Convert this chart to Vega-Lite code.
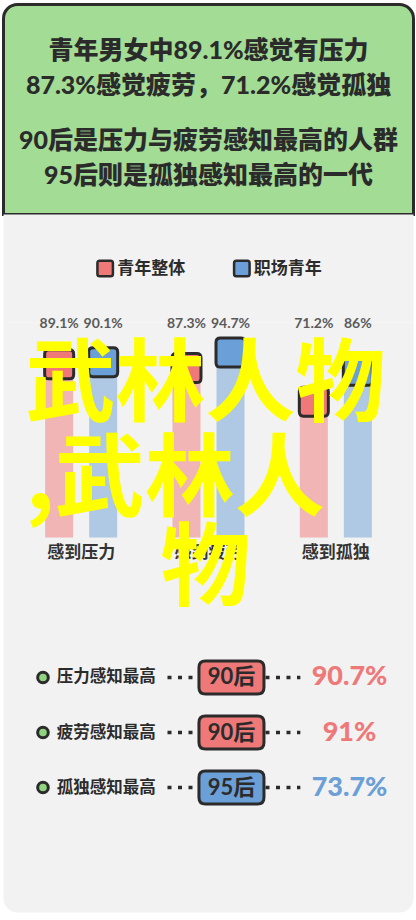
{
  "$schema": "https://vega.github.io/schema/vega-lite/v6.json",
  "background": "#ffffff",
  "padding": {"left": 1.5, "right": 1.5, "top": 2.5, "bottom": 8},
  "spacing": 0,
  "bounds": "flush",
  "config": {"view": {"stroke": null}},
  "datasets": {
    "headline": [
      {"para": 1, "text": "青年男女中89.1%感觉有压力\n87.3%感觉疲劳，71.2%感觉孤独"},
      {"para": 2, "text": "90后是压力与疲劳感知最高的人群\n95后则是孤独感知最高的一代"}
    ],
    "perception": [
      {"feeling": "感到压力", "group": "青年整体", "share": 0.891},
      {"feeling": "感到压力", "group": "职场青年", "share": 0.901},
      {"feeling": "感到疲劳", "group": "青年整体", "share": 0.873},
      {"feeling": "感到疲劳", "group": "职场青年", "share": 0.947},
      {"feeling": "感到孤独", "group": "青年整体", "share": 0.712},
      {"feeling": "感到孤独", "group": "职场青年", "share": 0.86}
    ],
    "peak": [
      {"rank": 1, "item": "压力感知最高", "cohort": "90后", "share": 0.907},
      {"rank": 2, "item": "疲劳感知最高", "cohort": "90后", "share": 0.91},
      {"rank": 3, "item": "孤独感知最高", "cohort": "95后", "share": 0.737}
    ],
    "stamp": [
      {"part": 1, "text": "武林人物\n,武林人"},
      {"part": 2, "text": "物"}
    ],
    "note": [
      {"text": "注：要素评分在3分及以上为有感知"}
    ],
    "one": [{}]
  },
  "vconcat": [
    {
      "width": 410,
      "height": 210,
      "layer": [
        {
          "data": {"name": "one"},
          "mark": {
            "type": "rect",
            "x": 0, "x2": "width", "y": 0, "y2": "height", "y2Offset": 3,
            "filled": true,
            "color": "#a2dc95",
            "stroke": "#2b2b2b", "strokeWidth": 3,
            "cornerRadiusTopLeft": 14, "cornerRadiusTopRight": 14
          },
          "encoding": {}
        },
        {
          "data": {"name": "headline"},
          "mark": {
            "type": "text",
            "lineBreak": "\n",
            "lineHeight": 35,
            "baseline": "middle",
            "font": "Lato, 'Noto Sans CJK SC', sans-serif",
            "fontSize": 25,
            "fontWeight": 900,
            "color": "#2b2b2b"
          },
          "encoding": {
            "y": {"field": "para", "type": "ordinal", "scale": {"type": "point", "padding": 0, "range": [46, 136]}, "axis": null},
            "text": {"field": "text"}
          }
        }
      ]
    },
    {
      "width": 410,
      "height": 108,
      "view": {"fill": "#f2f2f2", "stroke": null},
      "layer": [
        {
          "data": {"name": "one"},
          "mark": {"type": "rule", "x": 0, "x2": "width", "y": 0, "yOffset": -1.5, "color": "#2b2b2b", "strokeWidth": 3.5, "strokeDash": [3.5, 5]},
          "encoding": {}
        },
        {
          "data": {"name": "perception"},
          "transform": [{"filter": "datum.feeling === '感到压力'"}],
          "encoding": {
            "x": {"field": "group", "type": "nominal", "sort": null, "scale": {"type": "point", "padding": 1.31}, "axis": null}
          },
          "layer": [
            {
              "mark": {
                "type": "point",
                "shape": "M-0.7,-1H0.7Q1,-1 1,-0.7V0.7Q1,1 0.7,1H-0.7Q-1,1 -1,0.7V-0.7Q-1,-1 -0.7,-1Z",
                "size": 240,
                "filled": true,
                "opacity": 1,
                "stroke": "#2b2b2b",
                "strokeWidth": 2.5,
                "xOffset": -35
              },
              "encoding": {
                "color": {"field": "group", "type": "nominal", "scale": {"domain": ["青年整体", "职场青年", "90后", "95后"], "range": ["#ef7878", "#6b9fd7", "#ef7878", "#6b9fd7"]}, "legend": null}
              }
            },
            {
              "mark": {"type": "text", "align": "left", "baseline": "middle", "dx": -23, "font": "'Noto Sans CJK SC', sans-serif", "fontSize": 17, "fontWeight": "bold", "color": "#2b2b2b"},
              "encoding": {"text": {"field": "group"}}
            }
          ]
        }
      ]
    },
    {
      "width": 410,
      "height": 590,
      "layer": [
        {
          "data": {"name": "one"},
          "mark": {
            "type": "rect",
            "x": 0, "x2": "width", "y": 0, "y2": "height",
            "filled": true,
            "color": "#f2f2f2",
            "cornerRadiusBottomLeft": 14, "cornerRadiusBottomRight": 14
          },
          "encoding": {}
        },
        {
          "data": {"name": "perception"},
          "encoding": {
            "x": {"field": "feeling", "type": "nominal", "sort": null, "scale": {"paddingInner": 0, "paddingOuter": 0.11}, "axis": null}
          },
          "layer": [
            {
              "mark": {"type": "bar", "opacity": 0.5},
              "encoding": {
                "xOffset": {"field": "group", "type": "nominal", "sort": null, "scale": {"paddingInner": 0.364, "paddingOuter": 0.628}},
                "y": {"field": "share", "type": "quantitative", "scale": {"domain": [-1.732, 1.091], "nice": false, "zero": false}, "axis": null},
                "y2": {"datum": 0.062},
                "color": {"field": "group", "type": "nominal", "scale": {"domain": ["青年整体", "职场青年", "90后", "95后"], "range": ["#ef7878", "#6b9fd7", "#ef7878", "#6b9fd7"]}, "legend": null}
              }
            },
            {
              "mark": {
                "type": "point",
                "shape": "M-0.7,-1H0.7Q1,-1 1,-0.7V0.7Q1,1 0.7,1H-0.7Q-1,1 -1,0.7V-0.7Q-1,-1 -0.7,-1Z",
                "size": 841,
                "filled": true,
                "opacity": 1,
                "stroke": "#2b2b2b",
                "strokeWidth": 3
              },
              "encoding": {
                "xOffset": {"field": "group", "type": "nominal", "sort": null, "scale": {"paddingInner": 0.364, "paddingOuter": 0.628}},
                "y": {"field": "share", "type": "quantitative"},
                "color": {"field": "group", "type": "nominal", "scale": {"domain": ["青年整体", "职场青年", "90后", "95后"], "range": ["#ef7878", "#6b9fd7", "#ef7878", "#6b9fd7"]}, "legend": null}
              }
            },
            {
              "mark": {"type": "text", "baseline": "middle", "font": "Lato, sans-serif", "fontSize": 14, "fontWeight": "bold", "color": "#5a5a5a"},
              "encoding": {
                "xOffset": {"field": "group", "type": "nominal", "sort": null, "scale": {"paddingInner": 0.364, "paddingOuter": 0.628}},
                "y": {"datum": 1.086},
                "text": {"field": "share", "type": "quantitative", "format": ".1~%"}
              }
            },
            {
              "transform": [{"filter": "datum.group === '青年整体'"}],
              "mark": {"type": "text", "baseline": "middle", "font": "'Noto Sans CJK SC', sans-serif", "fontSize": 17, "fontWeight": "bold", "color": "#333333"},
              "encoding": {
                "y": {"datum": -0.014},
                "text": {"field": "feeling"}
              }
            },
            {
              "data": {"name": "stamp"},
              "transform": [{"filter": "datum.part === 1"}],
              "mark": {"type": "text", "align": "left", "baseline": "middle", "dx": -55.7, "lineBreak": "\n", "lineHeight": 95, "font": "'Noto Sans CJK SC', sans-serif", "fontSize": 90, "fontWeight": "bold", "color": "#ffff00"},
              "encoding": {
                "x": {"datum": "感到压力"},
                "y": {"datum": 0.78},
                "text": {"field": "text"}
              }
            },
            {
              "data": {"name": "stamp"},
              "transform": [{"filter": "datum.part === 2"}],
              "mark": {"type": "text", "align": "center", "baseline": "middle", "dx": -3, "font": "'Noto Sans CJK SC', sans-serif", "fontSize": 90, "fontWeight": "bold", "color": "#ffff00"},
              "encoding": {
                "x": {"datum": "感到疲劳"},
                "y": {"datum": -0.096},
                "text": {"field": "text"}
              }
            }
          ]
        },
        {
          "data": {"name": "peak"},
          "encoding": {
            "y": {"field": "rank", "type": "quantitative", "scale": {"domain": [-5.4545, 5.2727], "nice": false, "zero": false, "reverse": true}, "axis": null}
          },
          "layer": [
            {
              "data": {"name": "note"},
              "mark": {"type": "rule", "color": "#dcdcdc", "strokeWidth": 1.5},
              "encoding": {
                "x": {"datum": 3.17, "type": "quantitative", "scale": {"domain": [0, 100], "nice": false}, "axis": null},
                "x2": {"datum": 97.8},
                "y": {"datum": -0.2}
              }
            },
            {
              "mark": {"type": "rule", "color": "#2b2b2b", "strokeWidth": 3.5, "strokeDash": [4, 6.5]},
              "encoding": {
                "x": {"datum": 40.0, "type": "quantitative"},
                "x2": {"datum": 47.3}
              }
            },
            {
              "mark": {"type": "rule", "color": "#2b2b2b", "strokeWidth": 3.5, "strokeDash": [4, 6.5]},
              "encoding": {
                "x": {"datum": 63.9, "type": "quantitative"},
                "x2": {"datum": 72.4}
              }
            },
            {
              "mark": {"type": "point", "shape": "circle", "size": 113, "filled": true, "opacity": 1, "color": "#8fd47e", "stroke": "#2b2b2b", "strokeWidth": 3},
              "encoding": {
                "x": {"datum": 9.63, "type": "quantitative"}
              }
            },
            {
              "mark": {"type": "text", "align": "left", "baseline": "middle", "font": "'Noto Sans CJK SC', sans-serif", "fontSize": 16.5, "fontWeight": "bold", "color": "#2b2b2b"},
              "encoding": {
                "x": {"datum": 13.0, "type": "quantitative"},
                "text": {"field": "item"}
              }
            },
            {
              "mark": {
                "type": "point",
                "shape": "M-0.8,-0.508H0.8Q1,-0.508 1,-0.308V0.308Q1,0.508 0.8,0.508H-0.8Q-1,0.508 -1,0.308V-0.308Q-1,-0.508 -0.8,-0.508Z",
                "size": 4225,
                "filled": true,
                "opacity": 1,
                "stroke": "#2b2b2b",
                "strokeWidth": 3
              },
              "encoding": {
                "x": {"datum": 55.6, "type": "quantitative"},
                "color": {"field": "cohort", "type": "nominal", "scale": {"domain": ["青年整体", "职场青年", "90后", "95后"], "range": ["#ef7878", "#6b9fd7", "#ef7878", "#6b9fd7"]}, "legend": null}
              }
            },
            {
              "mark": {"type": "text", "baseline": "middle", "font": "Lato, 'Noto Sans CJK SC', sans-serif", "fontSize": 22, "fontWeight": "bold", "color": "#2b2b2b"},
              "encoding": {
                "x": {"datum": 55.6, "type": "quantitative"},
                "text": {"field": "cohort"}
              }
            },
            {
              "mark": {"type": "text", "baseline": "middle", "font": "Lato, sans-serif", "fontSize": 27, "fontWeight": 900},
              "encoding": {
                "x": {"datum": 84.4, "type": "quantitative"},
                "text": {"field": "share", "type": "quantitative", "format": ".1~%"},
                "color": {"field": "cohort", "type": "nominal", "scale": {"domain": ["青年整体", "职场青年", "90后", "95后"], "range": ["#ef7878", "#6b9fd7", "#ef7878", "#6b9fd7"]}, "legend": null}
              }
            },
            {
              "data": {"name": "note"},
              "mark": {"type": "text", "baseline": "middle", "font": "'Noto Sans CJK SC', sans-serif", "fontSize": 15, "color": "#555555"},
              "encoding": {
                "x": {"datum": 50.5, "type": "quantitative"},
                "y": {"datum": 4.473},
                "text": {"field": "text"}
              }
            }
          ]
        }
      ],
      "resolve": {"scale": {"x": "independent", "y": "independent"}}
    }
  ]
}
